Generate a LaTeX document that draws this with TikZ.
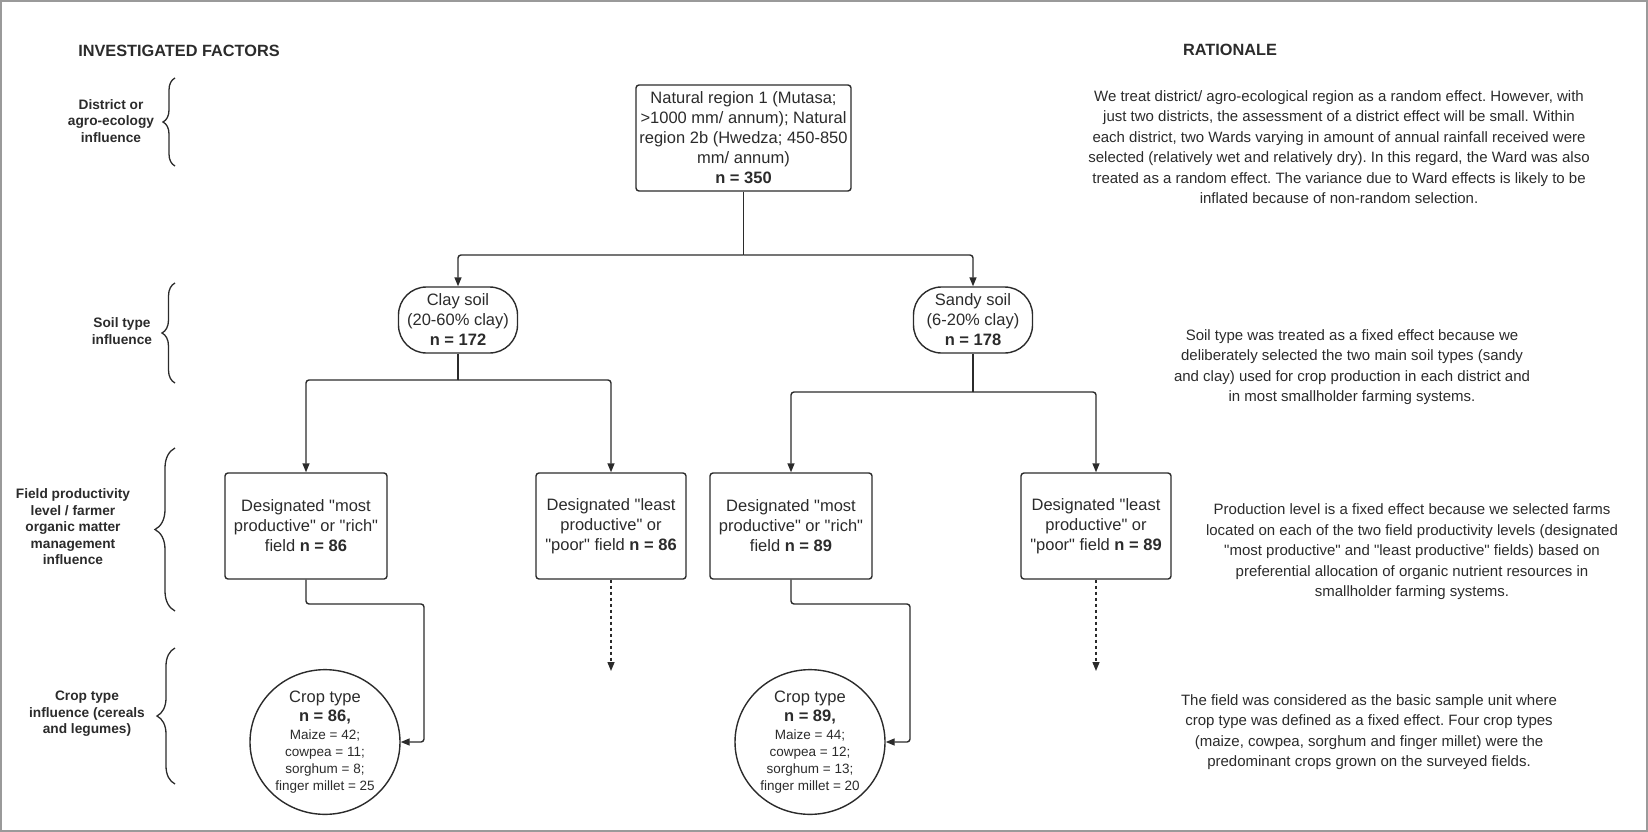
\documentclass[tikz,border=0pt]{standalone}
\usepackage{fontspec}
\setmainfont{Liberation Sans}
\usetikzlibrary{arrows.meta,shapes.geometric,positioning,decorations.pathreplacing}
\definecolor{ink}{HTML}{2B2B2B}
\definecolor{framegray}{HTML}{9A9A9A}
\newcommand{\qq}{\textquotedbl}
\frenchspacing

\begin{document}
\begin{tikzpicture}[x=1pt, y=-1pt,
    box/.style={draw=ink, line width=1.4pt, rounded corners=3pt, minimum width=162, minimum height=106, align=center, inner sep=0pt, text=ink, font=\fontsize{16.5}{20}\selectfont},
    soil/.style={box, rounded corners=28pt, minimum width=119, minimum height=66},
    crop/.style={draw=ink, line width=1.4pt, ellipse, minimum width=150, minimum height=133, inner sep=0pt, align=center, text=ink, font=\fontsize{13.5}{17}\selectfont},
    conn/.style={draw=ink, line width=1.4pt, rounded corners=3pt},
    arr/.style={conn, -{Triangle[length=9pt, width=7pt]}},
    brc/.style={draw=ink, line width=1.3pt, decorate},
    factor/.style={align=center, text=ink, font=\fontsize{13.7}{16.5}\selectfont\bfseries},
    head/.style={text=ink, font=\fontsize{16.3}{19}\selectfont\bfseries},
    why/.style={align=center, text=ink, font=\fontsize{15}{20.5}\selectfont}
]
\useasboundingbox (0,0) rectangle (1648,832);
\draw[framegray, line width=2pt] (1,1) rectangle (1647,831);

% headings and factor labels
\node[head] (hfac) at (179,51) {INVESTIGATED FACTORS};
\node[head] (hrat) at (1230,50) {RATIONALE};

\node[factor] (lab1) at (111,121) {District or\\agro-ecology\\influence};
\node[factor] (lab2) at (122,331) {Soil type\\influence};
\node[factor] (lab3) at (73,527) {Field productivity\\level / farmer\\organic matter\\management\\influence};
\node[factor] (lab4) at (87,714) {Crop type\\influence (cereals\\and legumes)};

\draw[brc, decoration={brace, amplitude=12pt}] (175,166) -- (175,78);
\draw[brc, decoration={brace, amplitude=13pt}] (175,383) -- (175,283);
\draw[brc, decoration={brace, amplitude=20pt}] (175,611) -- (175,448);
\draw[brc, decoration={brace, amplitude=18pt}] (175,784) -- (175,648);

% tree
\node[box, minimum width=215] (region) at (743.5,138) {Natural region 1 (Mutasa;\\>1000 mm/ annum); Natural\\region 2b (Hwedza; 450-850\\mm/ annum)\\\textbf{n = 350}};

\node[soil] (clay) at (458,320) {Clay soil\\(20-60\% clay)\\\textbf{n = 172}};
\node[soil] (sandy) at (973,320) {Sandy soil\\(6-20\% clay)\\\textbf{n = 178}};

\node[box] (rich86) at (306,526) {Designated \qq most\\productive\qq{} or \qq rich\qq\\field \textbf{n = 86}};
\node[box, minimum width=150] (poor86) at (611,526) {Designated \qq least\\productive\qq{} or\\\qq poor\qq{} field \textbf{n = 86}};
\node[box] (rich89) at (791,526) {Designated \qq most\\productive\qq{} or \qq rich\qq\\field \textbf{n = 89}};
\node[box, minimum width=150] (poor89) at (1096,526) {Designated \qq least\\productive\qq{} or\\\qq poor\qq{} field \textbf{n = 89}};

\node[crop] (crop86) at (325,742) {{\fontsize{16.5}{19}\selectfont Crop type}\\[2pt]{\fontsize{16.5}{19}\selectfont\bfseries n = 86,}\\[1pt]Maize = 42;\\cowpea = 11;\\sorghum = 8;\\finger millet = 25};
\node[crop] (crop89) at (810,742) {{\fontsize{16.5}{19}\selectfont Crop type}\\[2pt]{\fontsize{16.5}{19}\selectfont\bfseries n = 89,}\\[1pt]Maize = 44;\\cowpea = 12;\\sorghum = 13;\\finger millet = 20};

\coordinate (split0) at (743.5,255);
\coordinate (splitclay) at (458,380);
\coordinate (splitsandy) at (973,392);
\coordinate (bend86) at (424,604);
\coordinate (bend89) at (910,604);
\coordinate (end86) at (611,671);
\coordinate (end89) at (1096,671);

\draw[conn] (region.south) -- (split0);
\draw[arr] (split0) -| (clay.north);
\draw[arr] (split0) -| (sandy.north);

\draw[conn] (clay.south) -- (splitclay);
\draw[arr] (splitclay) -| (rich86.north);
\draw[arr] (splitclay) -| (poor86.north);
\draw[conn] (sandy.south) -- (splitsandy);
\draw[arr] (splitsandy) -| (rich89.north);
\draw[arr] (splitsandy) -| (poor89.north);

\draw[arr] (rich86.south) |- (bend86) |- (crop86.east);
\draw[arr] (rich89.south) |- (bend89) |- (crop89.east);
\draw[arr, dashed] (poor86.south) -- (end86);
\draw[arr, dashed] (poor89.south) -- (end89);

% rationale column
\node[why] (why1) at (1339,147) {We treat district/ agro-ecological region as a random effect. However, with\\just two districts, the assessment of a district effect will be small. Within\\each district, two Wards varying in amount of annual rainfall received were\\selected (relatively wet and relatively dry). In this regard, the Ward was also\\treated as a random effect. The variance due to Ward effects is likely to be\\inflated because of non-random selection.};
\node[why] (why2) at (1352,367) {Soil type was treated as a fixed effect because we\\deliberately selected the two main soil types (sandy\\and clay) used for crop production in each district and\\in most smallholder farming systems.};
\node[why] (why3) at (1412,552) {Production level is a fixed effect because we selected farms\\located on each of the two field productivity levels (designated\\\qq most productive\qq{} and \qq least productive\qq{} fields) based on\\preferential allocation of organic nutrient resources in\\smallholder farming systems.};
\node[why] (why4) at (1369,732) {The field was considered as the basic sample unit where\\crop type was defined as a fixed effect. Four crop types\\(maize, cowpea, sorghum and finger millet) were the\\predominant crops grown on the surveyed fields.};
\end{tikzpicture}
\end{document}
